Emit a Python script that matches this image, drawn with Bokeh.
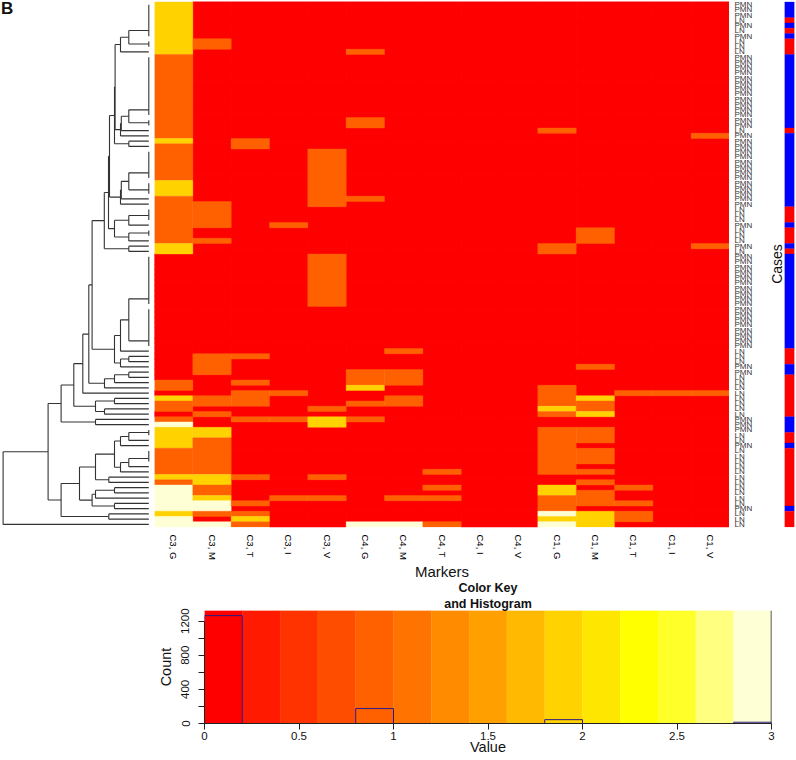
from math import ceil
from bokeh.embed import file_html
from bokeh.resources import INLINE
from bokeh.plotting import figure
from bokeh.layouts import row, column
from bokeh.models import FactorRange, Range1d, FixedTicker, Span, Title
from bokeh.core.properties import value

# ---------- data ----------
markers = ["C3, G", "C3, M", "C3, T", "C3, I", "C3, V",
           "C4, G", "C4, M", "C4, T", "C4, I", "C4, V",
           "C1, G", "C1, M", "C1, T", "C1, I", "C1, V"]
n_rows = 100

# non-zero runs per marker: (first row, last row, value); every other row is 0
c3_g = [(0,9,2),(10,25,1),(26,26,2),(27,33,1),(34,36,2),(37,45,1),(46,47,2),(72,73,1),(75,75,2),(76,77,1),
        (79,79,1),(80,80,3),(81,84,2),(85,89,1),(90,90,2),(91,91,1),(92,96,3),(97,97,2),(98,99,3)]
c3_m = [(7,8,1),(38,42,1),(45,45,1),(67,70,1),(75,76,1),(78,78,1),(81,82,2),(83,89,1),(90,91,2),(92,93,1),
        (94,94,2),(95,96,3),(97,97,1),(99,99,3)]
c3_t = [(26,27,1),(67,67,1),(72,72,1),(74,76,1),(79,79,1),(90,90,1),(95,95,1),(97,97,1),(98,98,2),(99,99,1)]
c3_i = [(42,42,1),(74,74,1),(79,79,1),(94,94,1)]
c3_v = [(28,38,1),(48,57,1),(77,77,1),(79,80,2),(90,90,1),(94,94,1)]
c4_g = [(9,9,1),(22,23,1),(37,37,1),(70,72,1),(73,73,2),(76,76,1),(79,79,1),(99,99,3)]
c4_m = [(66,66,1),(70,72,1),(75,76,1),(94,94,1),(99,99,3)]
c4_t = [(89,89,1),(92,92,1),(94,94,1),(99,99,1)]
c4_i = []
c4_v = []
c1_g = [(24,24,1),(46,47,1),(73,76,1),(77,77,2),(78,78,1),(81,89,1),(92,93,2),(94,96,1),(97,97,3),(98,98,2),(99,99,3)]
c1_m = [(43,45,1),(69,69,1),(75,75,2),(76,77,1),(78,78,2),(81,83,1),(85,87,1),(89,89,1),(91,91,1),(93,95,1),(97,99,2)]
c1_t = [(74,74,1),(92,92,1),(95,95,1),(97,98,1)]
c1_i = [(74,74,1)]
c1_v = [(25,25,1),(46,46,1),(74,74,1)]
marker_runs = [c3_g, c3_m, c3_t, c3_i, c3_v, c4_g, c4_m, c4_t, c4_i, c4_v, c1_g, c1_m, c1_t, c1_i, c1_v]

# rows of the first case type ("PMN"); the others are "LN"
pmn_rows = [(0,2),(4,4),(6,6),(10,23),(25,38),(42,42),(46,46),(48,65),(69,70),(79,81),(84,84),(96,96)]

key_colors = ["#FF0000","#FF1A00","#FF3300","#FF4D00","#FF6000","#FF7300","#FF8C00","#FFA000",
              "#FFB900","#FFD200","#FFE600","#FFFF00","#FFFF2A","#FFFF80","#FFFFD5"]
hist_edges = [0,0.2,0.4,0.6,0.8,1.0,1.2,1.4,1.6,1.8,2.0,2.2,2.4,2.6,2.8,3.0]
hist_counts = [1265,0,0,0,175,0,0,0,0,45,0,0,0,0,15]


# dendrogram: merge heights
def N(h, a, b):
    return ("n", h, a, b)
def Z(first, last, pos):
    return ("z", first, last, pos)

a1 = N(20, Z(0,6,5.43), Z(7,8,8.0))
a2 = N(28.3, a1, 9)
b1 = N(20, Z(10,21,20.54), Z(22,23,23.0))
b2 = N(27.5, b1, 24)
b3 = N(28.3, b2, 25)
a3 = N(33.7, a2, b3)
b5 = N(20, 26, 27)
a4 = N(34.3, a3, b5)
e1 = N(20, Z(28,33,32.54), Z(34,36,35.78))
e2 = N(27.5, e1, 37)
e3 = N(28.3, e2, 38)
c1 = N(39.3, a4, e3)
f1 = N(20, Z(39,41,40.67), 42)
f2 = N(20, Z(43,44,44.0), 45)
f3 = N(34.3, f1, f2)
c2 = N(40.3, c1, f3)
g1 = N(20, 46, 47)
h1 = N(44.5, c2, g1)
j1 = N(20, Z(48,57,56.54), Z(58,65,64.54))
j2 = N(28.3, j1, 66)
k1 = N(20, 67, 68)
k2 = N(28.3, k1, 69)
j3 = N(34.3, j2, k2)
i1 = N(56.7, h1, j3)
l1 = N(20, 70, 71)
l2 = N(34.3, l1, 72)
l3 = N(44.3, l2, 73)
m1 = N(60, i1, l3)
o1 = N(66, m1, 74)
p1 = N(34.3, 75, 76)
p2 = N(44.3, 77, 78)
p3 = N(53.3, p1, p2)
q1 = N(75, o1, p3)
r1 = N(53.3, 79, 80)
s1 = N(87.7, q1, r1)
t1 = N(20, Z(81,82,82.0), 83)
t2 = N(28.3, t1, 84)
u1 = N(20, Z(85,87,86.95), 88)
u2 = N(28.3, u1, 89)
v1 = N(34.3, t2, u2)
w1 = N(40, 90, 91)
x1 = N(53.3, v1, w1)
y1 = N(34.3, 92, 93)
y2 = N(53.3, y1, 94)
y3 = N(34.3, 95, 96)
y4 = N(56.7, y2, y3)
aa = N(69.3, x1, y4)
ab = N(40, 97, 98)
ac = N(87.7, aa, ab)
ad = N(100.7, s1, ac)
tree = N(145.7, ad, 99)

# ---------- derived ----------
font = value("Liberation Sans")
FONT = "Liberation Sans"

def expand(runs):
    vals = [0] * n_rows
    for first, last, v in runs:
        for i in range(first, last + 1):
            vals[i] = v
    return vals

def band_color(v):
    return key_colors[min(max(ceil(v * 5) - 1, 0), 14)]

case_types = ["LN"] * n_rows
for first, last in pmn_rows:
    for i in range(first, last + 1):
        case_types[i] = "PMN"

# zero cells: one per cell; non-zero cells: one block per run
zx, zy = [], []
rx, ry, rh, rc = [], [], [], []
for name, runs in zip(markers, marker_runs):
    for i, v in enumerate(expand(runs)):
        if v == 0:
            zx.append(name); zy.append(i + 0.5)
    for first, last, v in runs:
        rx.append(name); ry.append((first + last + 1) / 2); rh.append(last - first + 1); rc.append(band_color(v))

# case bar blocks
cy, ch, cc = [], [], []
start = 0
for i in range(1, n_rows + 1):
    if i == n_rows or case_types[i] != case_types[start]:
        cy.append((start + i) / 2); ch.append(i - start)
        cc.append("#0000FF" if case_types[start] == "PMN" else "#FF0000")
        start = i

xs0, xs1, ys0, ys1 = [], [], [], []
def seg(x0, y0, x1, y1):
    xs0.append(x0); ys0.append(y0); xs1.append(x1); ys1.append(y1)
def walk(node):
    """returns (height, y) of the node after adding its segments"""
    if isinstance(node, int):
        return 0.0, node + 0.5
    if node[0] == "z":
        seg(0, node[1] + 0.5, 0, node[2] + 0.5)
        return 0.0, node[3]
    _, h, a, b = node
    ha, ya = walk(a)
    hb, yb = walk(b)
    seg(h, ya, h, yb)
    seg(h, ya, ha, ya)
    seg(h, yb, hb, yb)
    return h, (ya + yb) / 2
walk(tree)

FRAME_H = 527
def row_range():
    return Range1d(start=(FRAME_H - 1.5) / 5.25, end=-1.5 / 5.25)

def bare(p):
    p.outline_line_color = None
    p.grid.visible = False
    p.xaxis.visible = False
    p.yaxis.visible = False
    return p

TOP_H = 583
common = dict(height=TOP_H, output_backend="svg", toolbar_location=None,
              min_border_top=0, min_border_bottom=TOP_H - FRAME_H, min_border_left=0, min_border_right=0)

# dendrogram
dend = bare(figure(width=154, x_range=Range1d(start=148.3, end=-5.7), y_range=row_range(), **common))
dend.segment(xs0, ys0, xs1, ys1, line_color="#333333", line_width=1.1)
dend.text(x=[147.7], y=[1.25], text=["B"], text_font=font, text_font_size="17px", text_font_style="bold",
          text_color="#111111", text_baseline="middle", text_align="left")

# heat map
heat = figure(width=575, x_range=FactorRange(factors=markers, range_padding=0), y_range=row_range(), **common)
heat.outline_line_color = None
heat.grid.visible = False
heat.yaxis.visible = False
heat.rect(x=zx, y=zy, width=1, height=1, fill_color=key_colors[0], line_color=key_colors[0], line_width=1)
heat.rect(x=rx, y=ry, width=1, height=rh, fill_color=rc, line_color=rc, line_width=0.4)
ax = heat.xaxis[0]
ax.axis_line_color = None
ax.major_tick_line_color = None
ax.minor_tick_line_color = None
ax.major_tick_in = 0
ax.major_tick_out = 0
ax.major_label_orientation = "vertical"
ax.major_label_text_font = FONT
ax.major_label_text_font_size = "9.5px"
ax.major_label_text_color = "#000000"
ax.major_label_standoff = 7
ax.axis_label = "Markers"
ax.axis_label_text_font = FONT
ax.axis_label_text_font_size = "15px"
ax.axis_label_text_font_style = "normal"
ax.axis_label_text_color = "#111111"
ax.axis_label_standoff = 0

# row labels
lab = bare(figure(width=34, x_range=Range1d(0, 34), y_range=row_range(), **common))
lab.text(x=[5.0] * n_rows, y=[i + 0.5 for i in range(n_rows)], text=case_types, text_font=font,
         text_font_size="8px", text_color="#333333", text_baseline="middle", text_align="left")

# case side bar
side_kw = dict(common)
side_kw["min_border_left"] = 21
side_kw["min_border_right"] = 2
cases = figure(width=33, x_range=Range1d(0, 1), y_range=row_range(), **side_kw)
cases.outline_line_color = None
cases.grid.visible = False
cases.xaxis.visible = False
cases.rect(x=[0.5] * len(cy), y=cy, width=1, height=ch, fill_color=cc, line_color=cc, line_width=0.3)
ay = cases.yaxis[0]
ay.ticker = FixedTicker(ticks=[])
ay.major_tick_line_color = None
ay.minor_tick_line_color = None
ay.axis_line_color = None
ay.major_tick_in = 0
ay.major_tick_out = 0
ay.major_label_standoff = 0
ay.axis_label = "Cases"
ay.axis_label_text_font = FONT
ay.axis_label_text_font_size = "14px"
ay.axis_label_text_font_style = "normal"
ay.axis_label_text_color = "#111111"
ay.axis_label_standoff = 0

# colour key and histogram
hist = figure(width=796, height=182, x_range=Range1d(0, 3), y_range=Range1d(0, 1325),
              output_backend="svg", toolbar_location=None, border_fill_color=None,
              min_border_top=0, min_border_bottom=37, min_border_left=204, min_border_right=25,
              margin=(-5, 0, 0, 0))
hist.outline_line_color = None
hist.grid.visible = False
for txt in ("and Histogram", "Color Key"):
    hist.add_layout(Title(text=txt, align="center", text_font=FONT, text_font_size="12.5px",
                          text_font_style="bold", text_color="#111111", standoff=0), "above")
hist.quad(left=hist_edges[:-1], right=hist_edges[1:], bottom=0, top=1325,
          fill_color=key_colors, line_color=key_colors, line_width=0.3)
hist.quad(left=hist_edges[:-1], right=hist_edges[1:], bottom=0, top=hist_counts,
          fill_color=None, line_color="#2A1A8A", line_width=1)
hist.add_layout(Span(location=3, dimension="height", line_color="#222222", line_width=1.5))

xa = hist.xaxis[0]
xa.ticker = FixedTicker(ticks=[0, 0.5, 1, 1.5, 2, 2.5, 3])
xa.major_label_overrides = {0: "0", 0.5: "0.5", 1: "1", 1.5: "1.5", 2: "2", 2.5: "2.5", 3: "3"}
xa.bounds = (0, 3)
xa.axis_label = "Value"
ya = hist.yaxis[0]
ya.ticker = FixedTicker(ticks=[0, 200, 400, 600, 800, 1000, 1200])
ya.major_label_overrides = {0: "0", 200: " ", 400: "400", 600: " ", 800: "800", 1000: " ", 1200: "1200"}
ya.bounds = (0, 1200)
ya.major_label_orientation = "vertical"
ya.axis_label = "Count"
for a in (xa, ya):
    a.axis_line_color = "#222222"
    a.major_tick_line_color = "#222222"
    a.major_tick_in = 0
    a.major_tick_out = 6
    a.minor_tick_line_color = None
    a.major_label_text_font = FONT
    a.major_label_text_font_size = "11.5px"
    a.major_label_text_color = "#111111"
    a.major_label_standoff = 4
    a.axis_label_text_font = FONT
    a.axis_label_text_font_size = "14.5px"
    a.axis_label_text_font_style = "normal"
    a.axis_label_text_color = "#111111"
    a.axis_label_standoff = 0
xa.major_label_standoff = 2
xa.axis_label_standoff = -4
ya.major_label_standoff = 7
ya.axis_label_standoff = 3

layout = column(row(dend, heat, lab, cases, spacing=0), hist, spacing=0)
open("out.html", "w").write(file_html(layout, INLINE))
